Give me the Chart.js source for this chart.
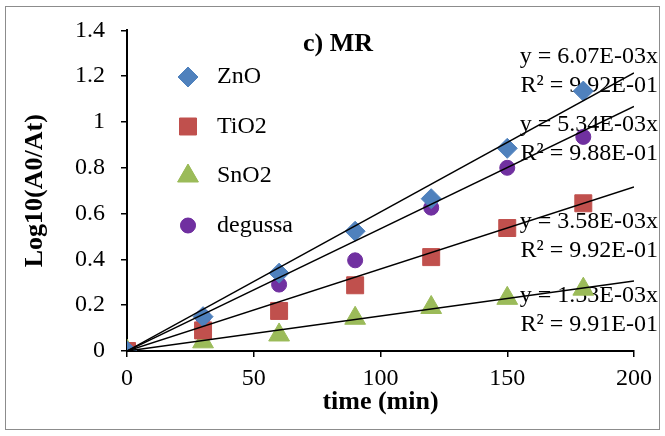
<!DOCTYPE html>
<html><head><meta charset="utf-8">
<script src="https://cdn.jsdelivr.net/npm/chart.js@4.4.1/dist/chart.umd.min.js"></script>
<style>html,body{margin:0;padding:0;background:#fff}#wrap{width:665px;height:436px;position:relative}</style>
</head><body><div id="wrap"><canvas id="c" width="665" height="436"></canvas></div>
<script>
const times = [0, 30, 60, 90, 120, 150, 180];
const znO = [0, 0.15, 0.34, 0.523, 0.665, 0.885, 1.135];
const tiO2 = [0, 0.09, 0.175, 0.287, 0.41, 0.537, 0.645];
const snO2 = [0, 0.04, 0.07, 0.143, 0.19, 0.23, 0.27];
const degussa = [0, 0.148, 0.29, 0.396, 0.626, 0.80, 0.935];
const seriesNames = ['ZnO', 'TiO2', 'SnO2', 'degussa'];
const slopes = [6.07e-3, 5.34e-3, 3.58e-3, 1.53e-3];
const slopeLabels = ['y = 6.07E-03x', 'y = 5.34E-03x', 'y = 3.58E-03x', 'y = 1.53E-03x'];
const r2Labels = ['R² = 9.92E-01', 'R² = 9.88E-01', 'R² = 9.92E-01', 'R² = 9.91E-01'];
const fitRange = [0, 200];
const chartTitle = 'c) MR';
const xTitle = 'time (min)';
const yTitle = 'Log10(A0/At)';

const pts = arr => times.map((t, i) => ({x: t, y: arr[i]}));
const colors = ['#4F81BD', '#C0504D', '#9BBB59', '#7030A0'];
const styles = ['rectRot', 'rect', 'triangle', 'circle'];
const radii = [10, 12, 12, 7.5];
const values = [znO, tiO2, snO2, degussa];

const datasets = [];
slopes.forEach(s => {
  datasets.push({type: 'line', data: fitRange.map(x => ({x, y: s * x})), borderColor: '#000', borderWidth: 1.5,
    pointRadius: 0, fill: false, order: 1});
});
values.forEach((v, i) => {
  datasets.push({type: 'scatter', label: seriesNames[i], data: pts(v), pointStyle: styles[i], pointRadius: radii[i],
    pointHoverRadius: radii[i], backgroundColor: colors[i], borderColor: colors[i], borderWidth: 1, order: 2});
});

const FONT = '"Liberation Serif", "Times New Roman", serif';

const deco = {
  id: 'deco',
  beforeDraw(chart) {
    const ctx = chart.ctx;
    ctx.save();
    ctx.fillStyle = '#fff';
    ctx.fillRect(0, 0, chart.width, chart.height);
    ctx.strokeStyle = '#8c8c8c';
    ctx.lineWidth = 1;
    ctx.strokeRect(5.5, 6.5, 654, 423);
    ctx.restore();
  },
  beforeDatasetsDraw(chart) {
    const ctx = chart.ctx;
    ctx.save();
    ctx.fillStyle = '#000';
    ctx.font = '24px ' + FONT;
    ctx.textAlign = 'right';
    ctx.textBaseline = 'middle';
    const eqY = [57, 125, 222, 296];
    slopeLabels.forEach((s, i) => {
      ctx.fillText(s, 658, eqY[i]);
      ctx.fillText(r2Labels[i], 658, eqY[i] + 29);
    });
    ctx.restore();
  },
  afterDraw(chart) {
    const ctx = chart.ctx;
    ctx.save();
    ctx.fillStyle = '#000';
    ctx.font = 'bold 26px ' + FONT;
    ctx.textAlign = 'center';
    ctx.textBaseline = 'middle';
    ctx.fillText(chartTitle, 338, 44);
    ctx.font = '24px ' + FONT;
    ctx.textAlign = 'left';
    [0, 1, 2, 3].forEach((i, k) => {
      const y = 77 + k * 49.5;
      ctx.fillStyle = colors[i];
      ctx.strokeStyle = colors[i];
      Chart.helpers.drawPoint(ctx, {pointStyle: styles[i], radius: radii[i], rotation: 0, borderWidth: 1}, 188, y);
      ctx.fill();
      ctx.fillStyle = '#000';
      ctx.fillText(seriesNames[i], 217, y);
    });
    ctx.restore();
  }
};

const fmt = v => String(Math.round(v * 10) / 10);

new Chart(document.getElementById('c'), {
  data: {datasets},
  options: {
    responsive: false, animation: false, devicePixelRatio: 1,
    layout: {padding: {top: 29, right: 31, left: 0, bottom: 0}},
    plugins: {legend: {display: false}, tooltip: {enabled: false}},
    scales: {
      x: {type: 'linear', min: 0, max: 200,
        ticks: {stepSize: 50, color: '#000', font: {family: FONT, size: 24}, padding: 7, callback: fmt},
        grid: {drawOnChartArea: false, drawTicks: true, tickLength: 6, color: '#000', lineWidth: 1.5},
        border: {color: '#000', width: 2},
        title: {display: true, text: xTitle, color: '#000', font: {family: FONT, size: 26, weight: 'bold'}, padding: {top: 0, bottom: 18}},
        afterFit(s) { s.height = 85; }
      },
      y: {type: 'linear', min: 0, max: 1.4,
        ticks: {stepSize: 0.2, color: '#000', font: {family: FONT, size: 24}, padding: 16, callback: fmt},
        grid: {drawOnChartArea: false, drawTicks: true, tickLength: 6, color: '#000', lineWidth: 1.5},
        border: {color: '#000', width: 2},
        title: {display: true, text: yTitle, color: '#000', font: {family: FONT, size: 26, weight: 'bold'}, padding: {top: 20, bottom: 0}},
        afterFit(s) { s.width = 127; }
      }
    }
  },
  plugins: [deco]
});
</script></body></html>
